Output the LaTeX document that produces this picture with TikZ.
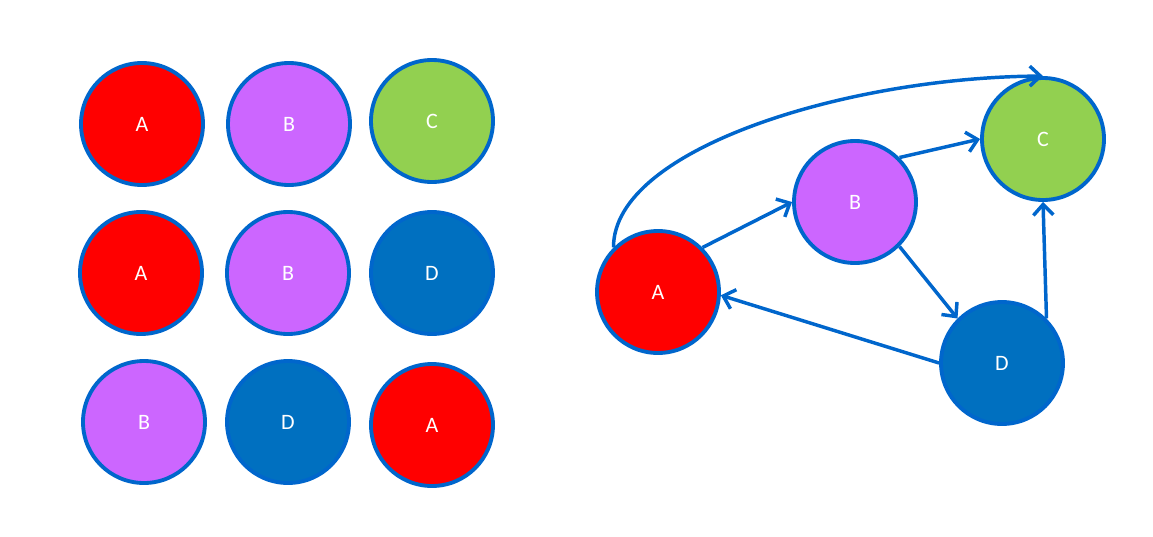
\documentclass[tikz,border=0pt]{standalone}
\usepackage{fontspec}
\setmainfont{Carlito}
\usetikzlibrary{arrows.meta}
\definecolor{cred}{HTML}{FF0000}
\definecolor{cpurple}{HTML}{CC66FF}
\definecolor{cgreen}{HTML}{92D050}
\definecolor{cblue}{HTML}{0070C0}
\definecolor{cline}{HTML}{0066CC}
\begin{document}
\begin{tikzpicture}[x=0.75pt,y=-0.75pt,
  ball/.style={circle,draw=cline,line width=2.9pt,minimum size=91.5pt,inner sep=0pt,
    text=white,font=\fontsize{16.5}{20}\selectfont},
  ra/.style={ball,fill=cred},
  rb/.style={ball,fill=cpurple},
  rc/.style={ball,fill=cgreen},
  rd/.style={ball,fill=cblue},
  conn/.style={draw=cline,line width=2.6pt,-{Straight Barb[length=8pt,width=15pt,line width=2.6pt]}}]
\useasboundingbox (0,0) rectangle (1153,536);
% left grid
\node[ra] (g11) at (142,124) {A};
\node[rb] (g12) at (289,124) {B};
\node[rc] (g13) at (432,121) {C};
\node[ra] (g21) at (141,273) {A};
\node[rb] (g22) at (288,273) {B};
\node[rd] (g23) at (432,273) {D};
\node[rb] (g31) at (144,422) {B};
\node[rd] (g32) at (288,422) {D};
\node[ra] (g33) at (432,425) {A};
% graph
\node[ra] (A) at (658,292) {A};
\node[rb] (B) at (855,202) {B};
\node[rc] (C) at (1043,139) {C};
\node[rd] (D) at (1002,363) {D};
\draw[conn] (A.45) -- (B.180);
\draw[conn] (B.45) -- (C.180);
\draw[conn] (B.-45) -- (D.135);
\draw[conn] (D.180) -- (A.-3);
\draw[conn] (D.45) -- (C.south);
\draw[conn] (A.135) .. controls (613,148) and (850,77) .. (C.north);
\end{tikzpicture}
\end{document}
